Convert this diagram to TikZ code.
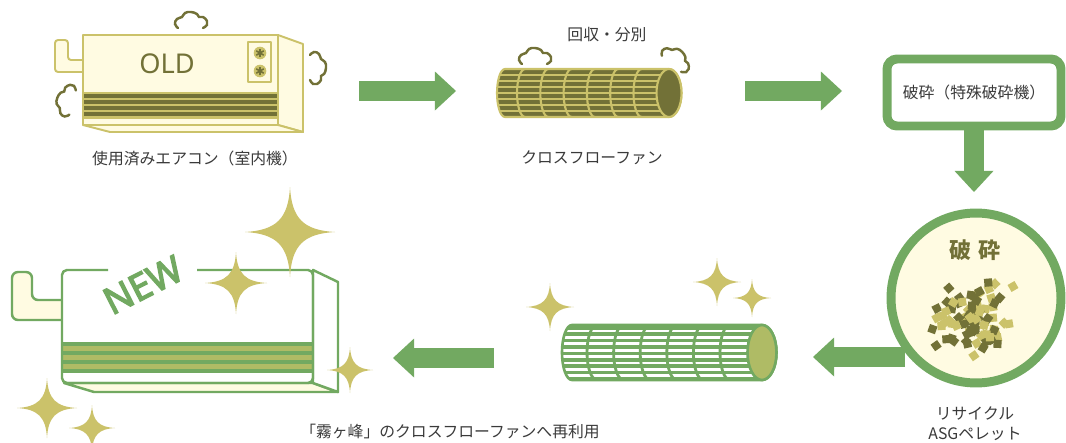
\documentclass[tikz,border=0pt]{standalone}
\usepackage{fontspec}
\usetikzlibrary{arrows.meta}

\newfontfamily\jpfont{Noto Sans CJK JP}
\newfontfamily\badgefont{Noto Sans}
\newfontfamily\badgebold{Noto Sans}[FakeBold=3.5]

\definecolor{leaf}{HTML}{72A961}
\definecolor{khaki}{HTML}{CBC26A}
\definecolor{moss}{HTML}{727137}
\definecolor{cream}{HTML}{FFFBE2}
\definecolor{sage}{HTML}{AFBB65}
\definecolor{ink}{HTML}{3A3A3A}

\begin{document}
\begin{tikzpicture}[
    x=0.02cm, y=-0.02cm,
    caption/.style={font=\jpfont\fontsize{9}{11}\selectfont, text=ink},
    bigarrow/.style={leaf, line width=11.4pt, -{Triangle[length=12pt, width=22.2pt, line width=0pt]}},
    oldedge/.style={khaki, line width=1.1pt, line join=round},
    newedge/.style={leaf, line width=1.4pt, line join=round},
    crushbox/.style={draw=leaf, line width=5.1pt, rounded corners=0.2cm, fill=white,
        minimum width=3.48cm, minimum height=1.34cm, caption},
    pellet/.style={circle, draw=leaf, line width=5.1pt, fill=cream, minimum size=3.4cm, inner sep=0pt},
    steam/.pic={
        \draw[moss, line width=1.4pt, line cap=round]
            plot[smooth, tension=0.8] coordinates {(-13,8) (-16,4) (-14,-1) (-9,-3) (-6,-7) (0,-8)
                (6,-6) (8,-3) (12,-3) (16,1) (16,5) (12,8)};
    },
    sparkle/.pic={
        \fill[khaki] (0,-1) .. controls (0.04,-0.3) and (0.3,-0.04) .. (1,0)
            .. controls (0.3,0.04) and (0.04,0.3) .. (0,1)
            .. controls (-0.04,0.3) and (-0.3,0.04) .. (-1,0)
            .. controls (-0.3,-0.04) and (-0.04,-0.3) .. cycle;
    }
]
\useasboundingbox (0,0) rectangle (1066,443);

% === Used indoor unit ===
\filldraw[oldedge, fill=cream, rounded corners=0.06cm]
    (68,60) -- (68,40) -- (55,40) -- (55,72) -- (90,72) -- (90,60) -- cycle;
\filldraw[oldedge, fill=cream] (278,35) -- (303,44) -- (303,132) -- (278,125) -- cycle;
\filldraw[oldedge, fill=cream] (83,125) -- (110,132) -- (303,132) -- (278,125) -- cycle;
\filldraw[oldedge, fill=cream] (83,35) rectangle (278,125);
\fill[khaki] (83,92) rectangle (278,118.5);
\foreach \k in {0,...,3}
    \fill[moss] (84,94+6*\k) rectangle (277,98.3+6*\k);
\filldraw[oldedge, fill=cream] (248,42) rectangle (271,82);
\foreach \cy in {53,71} {
    \fill[khaki] (260,\cy) circle[radius=6.3];
    \foreach \a in {90,30,-30}
        \draw[moss, line width=0.9pt] (260,\cy) ++(\a:4.3) -- ++(\a+180:8.6);
}
\node[text=moss, font=\badgefont\fontsize{15.5}{15.5}\selectfont] (old) at (167,64) {OLD};
\pic at (191,20) {steam};
\pic[rotate=-90] at (318,68) {steam};
\pic[rotate=75] at (65,100) {steam};
\node[caption] (usedAC) at (195,158) {使用済みエアコン（室内機）};

% === Cross-flow fan, recovered ===
\begin{scope}
    \path[clip] (505,69) arc[start angle=270, end angle=90, x radius=8, y radius=24]
        -- (669,117) arc[start angle=90, end angle=-90, x radius=12.5, y radius=24] -- cycle;
    \fill[moss] (490,60) rectangle (690,125);
    \foreach \k in {1,...,7}
        \draw[khaki, line width=0.9pt] (490,69+6*\k) -- (690,69+6*\k);
    \foreach \k in {0,...,5}
        \draw[khaki, line width=1.2pt] (525+23.3*\k,69) arc[start angle=270, end angle=90, x radius=8, y radius=24];
\end{scope}
\draw[khaki, line width=1.2pt] (505,69) arc[start angle=270, end angle=90, x radius=8, y radius=24]
    -- (669,117) arc[start angle=90, end angle=-90, x radius=12.5, y radius=24] -- cycle;
\filldraw[fill=moss, draw=khaki, line width=1.2pt] (669,93) ellipse[x radius=12.5, y radius=24];
\pic at (535,56) {steam};
\pic[rotate=-40] at (677,58) {steam};
\node[caption] (sort) at (607,35) {回収・分別};
\node[caption] (fanOld) at (592,158) {クロスフローファン};

% === Crushing ===
\node[crushbox] (crush) at (974,92.5) {破砕（特殊破砕機）};
\coordinate (a3e) at (974,192);
\draw[bigarrow] (crush.south) -- (a3e);

% === Recycled pellets ===
\coordinate (a4s) at (905,357);
\coordinate (a4e) at (813,357);
\draw[bigarrow] (a4s) -- (a4e);
\node[pellet] (pellet) at (976,298) {};
\node[text=moss, font=\jpfont\bfseries\fontsize{12.5}{13}\selectfont] (crushed) at (975,250) {破\hspace{0.35em}砕};
\pgfmathsetseed{11}
\foreach \i in {1,...,26} {
    \pgfmathsetmacro\sx{972+19*(rand+rand+rand)}
    \pgfmathsetmacro\sy{318+18*(rand+rand+rand)}
    \pgfmathsetmacro\sa{45*rand}
    \fill[khaki, rotate around={\sa:(\sx,\sy)}] (\sx-4,\sy-4) rectangle (\sx+4,\sy+4);
}
\foreach \i in {1,...,46} {
    \pgfmathsetmacro\sx{970+16*(rand+rand+rand)}
    \pgfmathsetmacro\sy{320+16*(rand+rand+rand)}
    \pgfmathsetmacro\sa{45*rand}
    \fill[moss, rotate around={\sa:(\sx,\sy)}] (\sx-4,\sy-4) rectangle (\sx+4,\sy+4);
}
\foreach \i in {1,...,14} {
    \pgfmathsetmacro\sx{972+18*(rand+rand+rand)}
    \pgfmathsetmacro\sy{318+17*(rand+rand+rand)}
    \pgfmathsetmacro\sa{45*rand}
    \fill[khaki, rotate around={\sa:(\sx,\sy)}] (\sx-4,\sy-4) rectangle (\sx+4,\sy+4);
}
\node[caption] (recycle) at (975,413) {リサイクル};
\node[caption] (asg) at (975,434) {ASGペレット};

% === Cross-flow fan, remade ===
\begin{scope}
    \path[clip] (572,325) arc[start angle=270, end angle=90, x radius=10, y radius=27.5]
        -- (762,380) arc[start angle=90, end angle=-90, x radius=14.5, y radius=27.5] -- cycle;
    \fill[leaf] (555,320) rectangle (785,385);
    \foreach \k in {0,...,7}
        \draw[white, line width=1.5pt] (555,331+6.4*\k) -- (785,331+6.4*\k);
    \foreach \k in {0,...,5}
        \draw[leaf, line width=1.6pt] (597+26.6*\k,325) arc[start angle=270, end angle=90, x radius=10, y radius=27.5];
\end{scope}
\draw[leaf, line width=1.5pt] (572,325) arc[start angle=270, end angle=90, x radius=10, y radius=27.5]
    -- (762,380) arc[start angle=90, end angle=-90, x radius=14.5, y radius=27.5] -- cycle;
\filldraw[fill=sage, draw=leaf, line width=1.5pt] (762,352.5) ellipse[x radius=14.5, y radius=27.5];
\pic[scale=24] at (550,307) {sparkle};
\pic[scale=24] at (717,282) {sparkle};
\pic[scale=19] at (752,298) {sparkle};

\coordinate (a5s) at (494,358);
\coordinate (a5e) at (393,358);
\draw[bigarrow] (a5s) -- (a5e);

% === New indoor unit ===
\filldraw[newedge, fill=cream, rounded corners=0.12cm]
    (32,300) -- (32,272) -- (12,272) -- (12,320) -- (70,320) -- (70,300) -- cycle;
\fill[white, rounded corners=0.1cm] (62,270) rectangle (313,383);
\fill[leaf] (63,342) rectangle (312,373);
\foreach \k in {1,3,5}
    \fill[sage] (63,342+4.43*\k) rectangle (312,346.43+4.43*\k);
\filldraw[newedge, fill=cream] (64,383) -- (94,392) -- (338,392) -- (313,383) -- cycle;
\filldraw[newedge, fill=white] (313,270) -- (338,282) -- (338,392) -- (313,383) -- cycle;
\draw[newedge, rounded corners=0.1cm] (197,270) -- (313,270) -- (313,383) -- (62,383) -- (62,270) -- (108,270);
\node[rotate=27, text=leaf, font=\badgebold\fontsize{21}{21}\selectfont] (badge) at (143,285) {NEW};
\pic[scale=45] at (290,232) {sparkle};
\pic[scale=31] at (236,283) {sparkle};
\pic[scale=23] at (350,370) {sparkle};
\pic[scale=30] at (47,408) {sparkle};
\pic[scale=23] at (92,428) {sparkle};
\node[caption] (reuse) at (450,431) {「霧ヶ峰」のクロスフローファンへ再利用};

% === Flow between steps ===
\coordinate (a1s) at (359,91);
\coordinate (a1e) at (456,91);
\draw[bigarrow] (a1s) -- (a1e);
\coordinate (a2s) at (745,91);
\coordinate (a2e) at (842,91);
\draw[bigarrow] (a2s) -- (a2e);

\end{tikzpicture}
\end{document}
